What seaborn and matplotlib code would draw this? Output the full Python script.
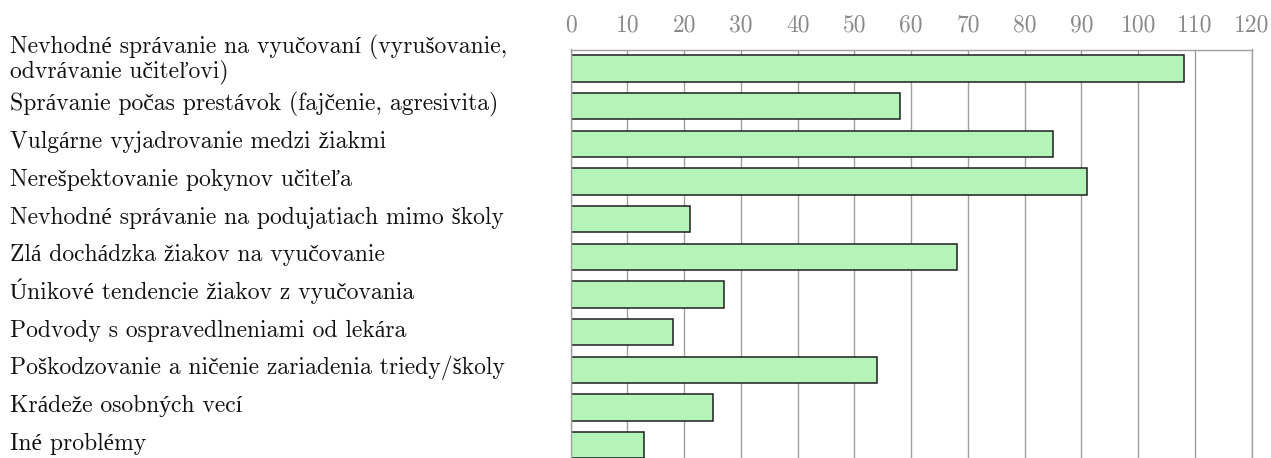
import matplotlib
matplotlib.use("Agg")
import matplotlib.pyplot as plt
import matplotlib.transforms as mtransforms
import seaborn as sns
import pandas as pd

categories = [
    "Nevhodné správanie na vyučovaní (vyrušovanie,\nodvrávanie učiteľovi)",
    "Správanie počas prestávok (fajčenie, agresivita)",
    "Vulgárne vyjadrovanie medzi žiakmi",
    "Nerešpektovanie pokynov učiteľa",
    "Nevhodné správanie na podujatiach mimo školy",
    "Zlá dochádzka žiakov na vyučovanie",
    "Únikové tendencie žiakov z vyučovania",
    "Podvody s ospravedlneniami od lekára",
    "Poškodzovanie a ničenie zariadenia triedy/školy",
    "Krádeže osobných vecí",
    "Iné problémy",
]
values = [108, 58, 85, 91, 21, 68, 27, 18, 54, 25, 13]
x_ticks = [0, 10, 20, 30, 40, 50, 60, 70, 80, 90, 100, 110, 120]
x_tick_labels = [str(t) for t in x_ticks]

sns.set_theme(style="white")
plt.rcParams["font.family"] = ["cmr10", "Liberation Serif", "DejaVu Serif"]
plt.rcParams["axes.formatter.use_mathtext"] = True

W, H = 1271, 458
fig = plt.figure(figsize=(W / 100, H / 100), dpi=100)
ax_left, ax_right, ax_top, ax_bottom = 570.7, 1251.7, 49.5, 464.0
ax = fig.add_axes([ax_left / W, 1 - ax_bottom / H, (ax_right - ax_left) / W, (ax_bottom - ax_top) / H])

df = pd.DataFrame({"kategoria": categories, "pocet": values})
sns.barplot(data=df, x="pocet", y="kategoria", orient="h", color="#b4f4b9",
            saturation=1, edgecolor="#1e1e1e", linewidth=1.1, width=0.7, ax=ax)

ax.set_xlim(0, 120)
ax.set_xticks(x_ticks)
ax.set_xticklabels(x_tick_labels)
ax.xaxis.tick_top()
ax.tick_params(axis="x", length=0, pad=9.5, labelsize=17, labelcolor="#8a8a8a")
ax.set_yticks([])
ax.set_xlabel("")
ax.set_ylabel("")
ax.grid(axis="x", color="#a0a0a0", linewidth=1.0)
ax.set_axisbelow(True)
ax.spines["bottom"].set_visible(False)
for s in ["top", "left", "right"]:
    ax.spines[s].set_color("#a0a0a0")
    ax.spines[s].set_linewidth(1.0)

base = mtransforms.blended_transform_factory(fig.transFigure, ax.transData)
for i, cat in enumerate(categories):
    lines = cat.split("\n")
    offsets = [-4.5] if len(lines) == 1 else [15.3, -8.7]
    for line, off in zip(lines, offsets):
        tr = base + mtransforms.ScaledTranslation(0, off / 100, fig.dpi_scale_trans)
        ax.text(9.5 / W, i, line, transform=tr, ha="left", va="baseline",
                fontsize=17, color="#111111", clip_on=False)

fig.savefig("out.png", dpi=100)
